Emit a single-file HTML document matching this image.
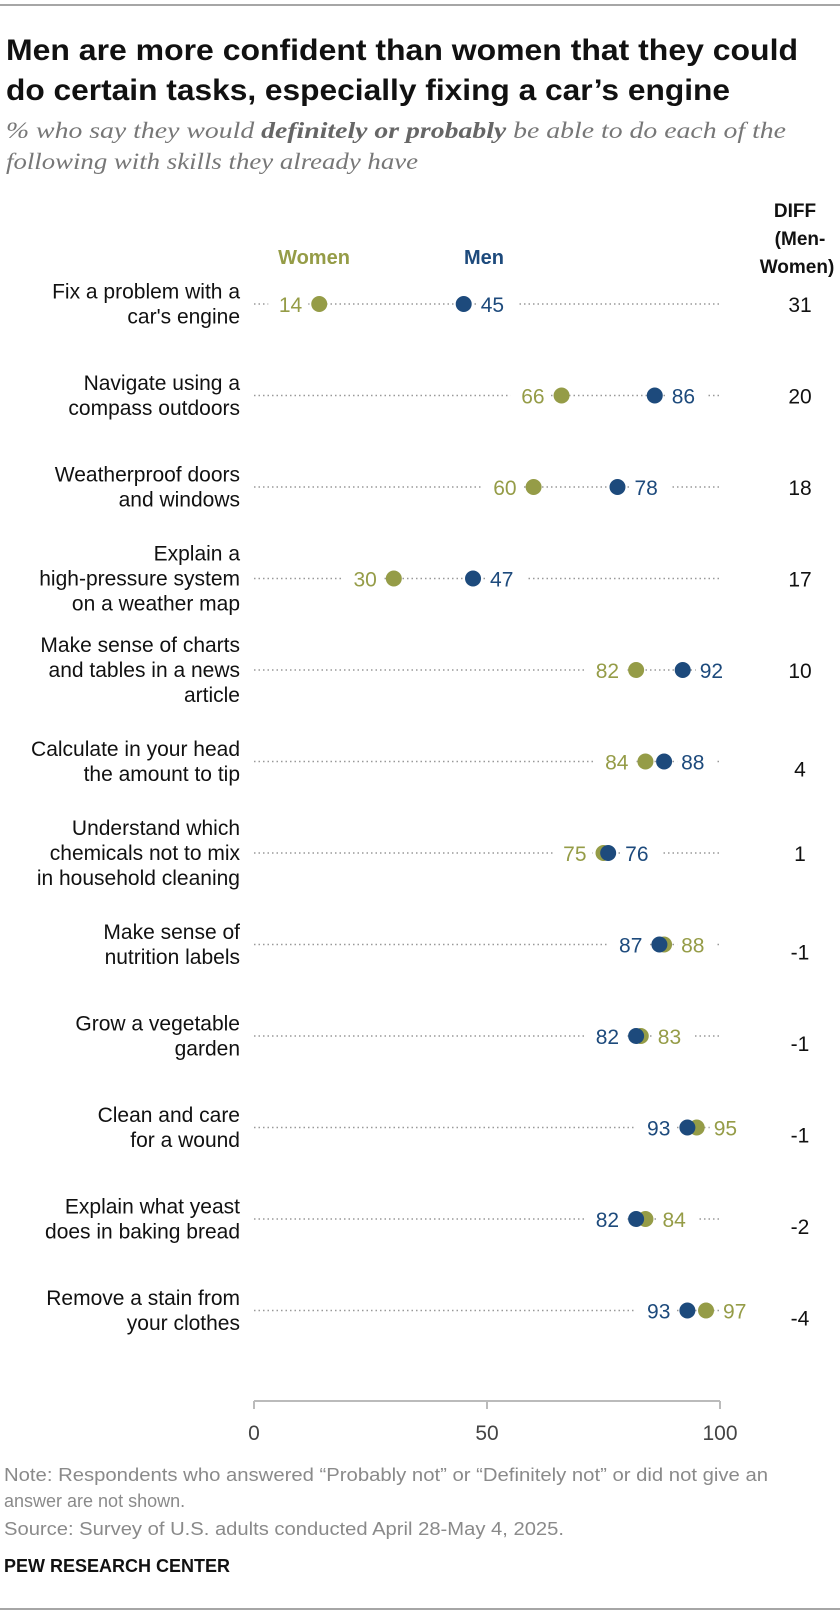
<!DOCTYPE html>
<html><head><meta charset="utf-8"><style>
body{margin:0;background:#fff;}
svg{display:block;font-family:"Liberation Sans",sans-serif;}
</style></head><body>
<svg id="chart" width="840" height="1616" viewBox="0 0 840 1616" xmlns="http://www.w3.org/2000/svg">
<line x1="0" y1="5" x2="840" y2="5" stroke="#888" stroke-width="1.5"/>
<text x="6" y="60" font-size="30" font-weight="bold" fill="#111" textLength="792" lengthAdjust="spacingAndGlyphs">Men are more confident than women that they could</text>
<text x="6" y="100" font-size="30" font-weight="bold" fill="#111" textLength="724" lengthAdjust="spacingAndGlyphs">do certain tasks, especially fixing a car’s engine</text>
<text x="6" y="138" font-size="23" font-style="italic" fill="#777" font-family="Liberation Serif,serif" textLength="780" lengthAdjust="spacingAndGlyphs">% who say they would <tspan font-weight="bold" fill="#666">definitely or probably</tspan> be able to do each of the</text>
<text x="6" y="169" font-size="23" font-style="italic" fill="#777" font-family="Liberation Serif,serif" textLength="412" lengthAdjust="spacingAndGlyphs">following with skills they already have</text>
<g font-size="19" font-weight="bold" fill="#111" text-anchor="middle">
<text x="795" y="217">DIFF</text><text x="800" y="245">(Men-</text><text x="797" y="273">Women)</text></g>
<text x="314" y="264" font-size="20" font-weight="bold" fill="#959c47" text-anchor="middle">Women</text>
<text x="484" y="264" font-size="20" font-weight="bold" fill="#1d4a7c" text-anchor="middle">Men</text>
<g id="rows"></g>
<g id="axis"></g>
<g font-size="18" fill="#8a8a8a">
<text x="4" y="1481" textLength="764" lengthAdjust="spacingAndGlyphs">Note: Respondents who answered “Probably not” or “Definitely not” or did not give an</text>
<text x="4" y="1507">answer are not shown.</text>
<text x="4" y="1535" textLength="560" lengthAdjust="spacingAndGlyphs">Source: Survey of U.S. adults conducted April 28-May 4, 2025.</text></g>
<text x="4" y="1572" font-size="18" font-weight="bold" fill="#111" textLength="226" lengthAdjust="spacingAndGlyphs">PEW RESEARCH CENTER</text>
<line x1="0" y1="1609" x2="840" y2="1609" stroke="#888" stroke-width="1.5"/>
</svg>
<script>
const categories=[["Fix a problem with a","car's engine"],["Navigate using a","compass outdoors"],["Weatherproof doors","and windows"],["Explain a","high-pressure system","on a weather map"],["Make sense of charts","and tables in a news","article"],["Calculate in your head","the amount to tip"],["Understand which","chemicals not to mix","in household cleaning"],["Make sense of","nutrition labels"],["Grow a vegetable","garden"],["Clean and care","for a wound"],["Explain what yeast","does in baking bread"],["Remove a stain from","your clothes"]];
const women=[14,66,60,30,82,84,75,88,83,95,84,97];
const men=[45,86,78,47,92,88,76,87,82,93,82,93];
const diffs=[31,20,18,17,10,4,1,-1,-1,-1,-2,-4];
const ticks=[0,50,100];
const NS="http://www.w3.org/2000/svg";
const X0=254,X1=720;
const x=v=>X0+(X1-X0)*v/100;
const y=i=>304+i*91.5;
const WC="#959c47",MC="#1d4a7c";
function mk(tag,attrs,parent){const e=document.createElementNS(NS,tag);for(const k in attrs)e.setAttribute(k,attrs[k]);parent.appendChild(e);return e;}
const rows=document.getElementById('rows');
categories.forEach((lab,i)=>{
  const cy=y(i);
  const g=mk('g',{},rows);
  
  
  const n=lab.length, lh=25, start=cy-(n-1)*lh/2+7;
  lab.forEach((t,j)=>{const tx=mk('text',{x:240,y:start+j*lh,'font-size':21,fill:'#111','text-anchor':'end'},g);tx.textContent=t;
    
    });
  const ln=mk('line',{x1:X0,x2:X1,y1:cy,y2:cy,stroke:'#999','stroke-width':1.5,'stroke-dasharray':'1.5 3'},g);
  
  
  const w=women[i],m=men[i];
  const wLow=w<m;
  const items=[[w,WC,wLow?'left':'right','women-value'],[m,MC,wLow?'right':'left','men-value']];
  items.forEach(([v,c,side,nm])=>{
    const px=x(v);
    const tx=side==='left'?px-17:px+17;
    const r=mk('rect',{x:side==='left'?tx-34:tx-4,y:cy-13,width:40,height:26,fill:'#fff'},g);
    
    
    const t=mk('text',{x:tx,y:cy+8,'font-size':21,fill:c,'text-anchor':side==='left'?'end':'start'},g);
    t.textContent=v;
    
    
  });
  const cw=mk('circle',{cx:x(w),cy:cy,r:8,fill:WC},g);
  
  
  const cm=mk('circle',{cx:x(m),cy:cy,r:8,fill:MC},g);
  
  
  const d=mk('text',{x:800,y:cy+(n===2&&i>=5?15:8),'font-size':21,fill:'#111','text-anchor':'middle'},g);
  d.textContent=diffs[i];
  
  
});
const ax=document.getElementById('axis');


const al=mk('line',{x1:X0,x2:X1,y1:1401,y2:1401,stroke:'#bbb','stroke-width':2},ax);


ticks.forEach(t=>{
  const tk=mk('line',{x1:x(t),x2:x(t),y1:1401,y2:1409,stroke:'#bbb','stroke-width':2},ax);
  
  
  const tl=mk('text',{x:x(t),y:1440,'font-size':21,fill:'#444','text-anchor':'middle'},ax);
  tl.textContent=t;
  
  
});
</script>
</body></html>
